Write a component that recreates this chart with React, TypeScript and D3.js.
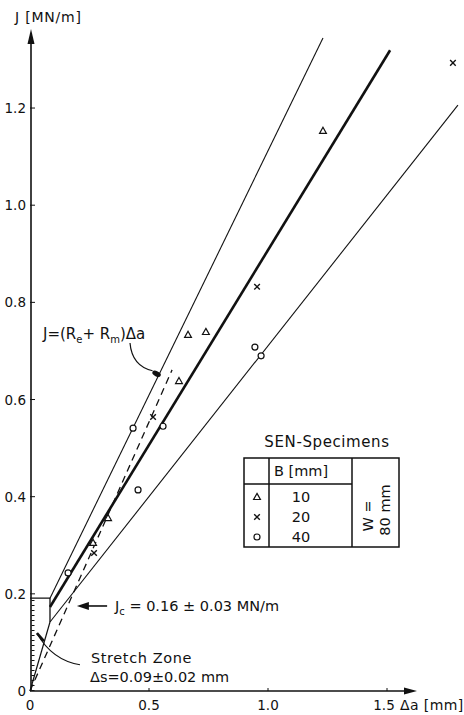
import React from "react";
import * as d3 from "d3";

// ---- data (Δa in mm, J in MN/m) ----
const xTickValues = [0, 0.5, 1.0, 1.5];
const xTickLabels = ["0", "0.5", "1.0", "1.5"];
const yTickValues = [0, 0.2, 0.4, 0.6, 0.8, 1.0, 1.2];
const yTickLabels = ["0", "0.2", "0.4", "0.6", "0.8", "1.0", "1.2"];

// B = 10 mm (triangles)
const seriesB10 = [
  [0.265, 0.305], [0.328, 0.356], [0.626, 0.638], [0.664, 0.733], [0.739, 0.739], [1.231, 1.153],
];
// B = 20 mm (crosses)
const seriesB20 = [
  [0.269, 0.284], [0.517, 0.564], [0.954, 0.832], [1.777, 1.293],
];
// B = 40 mm (circles)
const seriesB40 = [
  [0.16, 0.243], [0.454, 0.414], [0.433, 0.541], [0.559, 0.545], [0.945, 0.708], [0.971, 0.69],
];

// R-curve lines (start at stretch zone Δs, end at top)
const upperLine = [[0.084, 0.191], [1.231, 1.344]];
const meanLine = [[0.084, 0.173], [1.513, 1.319]];
const lowerLine = [[0.084, 0.142], [1.798, 1.206]];
const bluntingLine = [[0, 0], [0.597, 0.661]];
const originToLower = [[0, 0], [0.084, 0.142]];
const stretchBox = [[0, 0.191], [0.084, 0.191], [0.084, 0.142]];

const legendRows = ["10", "20", "40"];
const legendSymbols = ["tri", "cross", "circle"];

const FONT = "'DejaVu Sans', 'Liberation Sans', sans-serif";

export default function App() {
  const x = d3.scaleLinear().domain([0, 1]).range([30, 268]);
  const y = d3.scaleLinear().domain([0, 1]).range([691, 205.2]);
  const line = d3.line<number[]>().x((d) => x(d[0])).y((d) => y(d[1]));

  const tri = (cx: number, cy: number, s = 3.6) =>
    `M${cx},${cy - s}L${cx + s * 0.95},${cy + s * 0.7}L${cx - s * 0.95},${cy + s * 0.7}Z`;
  const cross = (cx: number, cy: number, s = 2.8) =>
    `M${cx - s},${cy - s}L${cx + s},${cy + s}M${cx - s},${cy + s}L${cx + s},${cy - s}`;

  const drawSym = (kind: string, cx: number, cy: number, key: string) => {
    if (kind === "tri")
      return <path key={key} d={tri(cx, cy)} fill="white" stroke="#111" strokeWidth={1.2} />;
    if (kind === "cross")
      return <path key={key} d={cross(cx, cy)} fill="none" stroke="#111" strokeWidth={1.4} />;
    return <circle key={key} cx={cx} cy={cy} r={3} fill="white" stroke="#111" strokeWidth={1.2} />;
  };

  const x0 = x(0);
  const y0 = y(0);

  // annotation anchor points in data units
  const formulaTip: [number, number] = [0.536, 0.653];
  const jcArrowFrom: [number, number] = [0.324, 0.175];
  const jcArrowTo: [number, number] = [0.197, 0.175];
  const szFrom: [number, number] = [0.21, 0.054];
  const szTo: [number, number] = [0.029, 0.119];

  const ft = [x(formulaTip[0]), y(formulaTip[1])];
  const jf = [x(jcArrowFrom[0]), y(jcArrowFrom[1])];
  const jt = [x(jcArrowTo[0]), y(jcArrowTo[1])];
  const sf = [x(szFrom[0]), y(szFrom[1])];
  const st = [x(szTo[0]), y(szTo[1])];

  return (
    <svg
      width={464}
      height={715}
      style={{ position: "absolute", left: 0, top: 0, background: "white" }}
      fontFamily={FONT}
    >
      <rect width={464} height={715} fill="white" />
      {/* axes */}
      <line x1={x0} y1={y0} x2={410} y2={y0} stroke="#111" strokeWidth={1.4} />
      <path d={`M404,${y0 - 3.5}L417,${y0}L404,${y0 + 3.5}Z`} fill="#111" />
      <line x1={x0 + 1} y1={y0} x2={x0 + 1} y2={40} stroke="#111" strokeWidth={1.6} />
      <path d={`M${x0 - 2.5},44L${x0 + 1},29L${x0 + 4.5},44Z`} fill="#111" />

      {/* ticks */}
      {xTickValues.slice(1).map((v, i) => (
        <line key={"xt" + i} x1={x(v)} x2={x(v)} y1={y0} y2={y0 - 3} stroke="#111" strokeWidth={1} />
      ))}
      {xTickValues.map((v, i) => (
        <text key={"xl" + i} x={x(v) - (i === 3 ? 3 : 0)} y={710} fontSize={13.5} textAnchor="middle" fill="#111">
          {xTickLabels[i]}
        </text>
      ))}
      {yTickValues.slice(1).map((v, i) => (
        <line key={"yt" + i} x1={x0} x2={x0 + 5} y1={y(v)} y2={y(v)} stroke="#111" strokeWidth={1} />
      ))}
      {yTickValues.map((v, i) => (
        <text key={"yl" + i} x={26} y={y(v) + 5} fontSize={13.5} textAnchor="end" fill="#111">
          {yTickLabels[i]}
        </text>
      ))}

      {/* axis titles */}
      <text x={15} y={22} fontSize={14} fill="#111" letterSpacing={0.8}>J [MN/m]</text>
      <text x={400} y={710} fontSize={14} fill="#111" letterSpacing={0.4}>Δa [mm]</text>

      {/* stretch zone hatching along y axis */}
      <line
        x1={x0 + 3}
        x2={x0 + 3}
        y1={y(0)}
        y2={y(0.191)}
        stroke="#111"
        strokeWidth={3}
        strokeDasharray="1 4"
      />

      {/* lines */}
      <path d={line(stretchBox as any) || ""} fill="none" stroke="#111" strokeWidth={1.3} />
      <path d={line(originToLower as any) || ""} fill="none" stroke="#111" strokeWidth={1.2} />
      <path d={line(upperLine as any) || ""} fill="none" stroke="#111" strokeWidth={1.1} />
      <path d={line(meanLine as any) || ""} fill="none" stroke="#111" strokeWidth={2.6} />
      <path d={line(lowerLine as any) || ""} fill="none" stroke="#111" strokeWidth={1.1} />
      <path
        d={line(bluntingLine as any) || ""}
        fill="none"
        stroke="#111"
        strokeWidth={1.3}
        strokeDasharray="7 5"
      />

      {/* markers */}
      {seriesB10.map((d, i) => drawSym("tri", x(d[0]), y(d[1]), "t" + i))}
      {seriesB20.map((d, i) => drawSym("cross", x(d[0]), y(d[1]), "c" + i))}
      {seriesB40.map((d, i) => drawSym("circle", x(d[0]), y(d[1]), "o" + i))}

      {/* formula annotation */}
      <text x={43} y={339} fontSize={15} fill="#111">
        J=(R<tspan fontSize={10} dy={4}>e</tspan>
        <tspan dy={-4}>+ R</tspan>
        <tspan fontSize={10} dy={4}>m</tspan>
        <tspan dy={-4}>)Δa</tspan>
      </text>
      <path
        d={`M130,343Q132,366 ${ft[0] - 5},${ft[1] - 3}`}
        fill="none"
        stroke="#111"
        strokeWidth={1.2}
      />
      <ellipse
        cx={ft[0] - 1}
        cy={ft[1]}
        rx={4.5}
        ry={2.6}
        transform={`rotate(25 ${ft[0] - 1} ${ft[1]})`}
        fill="#111"
      />

      {/* Jc annotation */}
      <line x1={jf[0]} y1={jf[1]} x2={jt[0] + 10} y2={jt[1]} stroke="#111" strokeWidth={1.6} />
      <path d={`M${jt[0]},${jt[1]}L${jt[0] + 12},${jt[1] - 4}L${jt[0] + 12},${jt[1] + 4}Z`} fill="#111" />
      <text x={115} y={611} fontSize={14.5} fill="#111">
        J<tspan fontSize={10} dy={4}>c</tspan>
        <tspan dy={-4}> = 0.16 ± 0.03 MN/m</tspan>
      </text>

      {/* stretch zone annotation */}
      <path
        d={`M${sf[0]},${sf[1]}Q52,660 ${st[0]},${st[1]}`}
        fill="none"
        stroke="#111"
        strokeWidth={1.1}
      />
      <line x1={st[0]} y1={st[1]} x2={st[0] + 7} y2={st[1] + 8} stroke="#111" strokeWidth={2.6} />
      <text x={91} y={663} fontSize={14.5} fill="#111" letterSpacing={0.6}>Stretch Zone</text>
      <text x={90} y={682} fontSize={14.5} fill="#111">Δs=0.09±0.02 mm</text>

      {/* legend table */}
      <text x={327} y={447} fontSize={15} textAnchor="middle" fill="#111" letterSpacing={0.6}>
        SEN-Specimens
      </text>
      <rect x={244} y={458} width={155} height={89} fill="none" stroke="#111" strokeWidth={1.5} />
      <line x1={269} x2={269} y1={458} y2={547} stroke="#111" strokeWidth={1.5} />
      <line x1={352} x2={352} y1={458} y2={547} stroke="#111" strokeWidth={1.5} />
      <line x1={244} x2={352} y1={484} y2={484} stroke="#111" strokeWidth={1.5} />
      <text x={274} y={476} fontSize={14.5} fill="#111">B [mm]</text>
      {legendRows.map((r, i) => (
        <g key={"lg" + i}>
          {drawSym(legendSymbols[i], 257, 497 + i * 20, "ls" + i)}
          <text x={301} y={502 + i * 20} fontSize={14.5} textAnchor="middle" fill="#111">
            {r}
          </text>
        </g>
      ))}
      <g transform="translate(376,510) rotate(-90)">
        <text x={-6} y={-3} fontSize={14.5} textAnchor="middle" fill="#111">W =</text>
        <text x={0} y={14} fontSize={14.5} textAnchor="middle" fill="#111">80 mm</text>
      </g>
    </svg>
  );
}
